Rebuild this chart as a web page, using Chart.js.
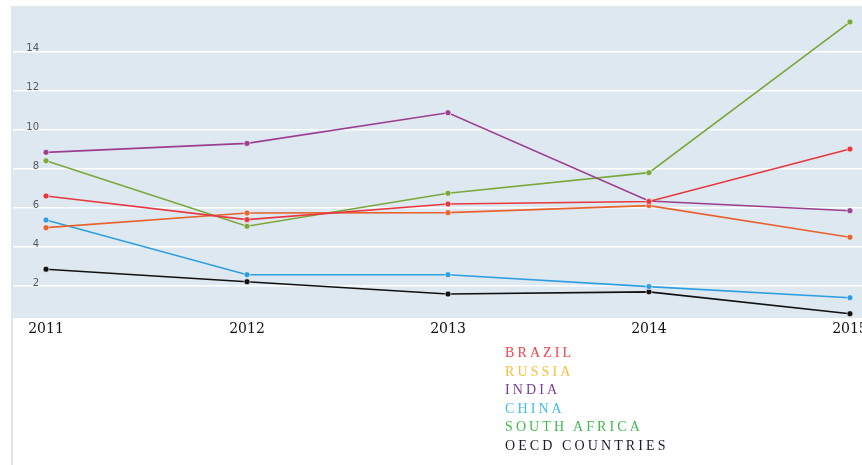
<!DOCTYPE html>
<html>
<head>
<style>
    body { margin: 0; background: #ffffff; }
    #wrap { position: relative; width: 862px; height: 465px; overflow: hidden; }
    #frame { position: absolute; left: 11px; top: 6px; width: 851px; height: 459px;
             border-left: 2px solid #e2e4e6; border-top: 1px solid #e6e8ea; pointer-events: none; }
    #legend { position: absolute; left: 505px; top: 344px; font-family: 'Liberation Serif', serif;
              font-size: 14px; line-height: 18.6px; letter-spacing: 3.1px; }
</style>
<script src="https://cdn.jsdelivr.net/npm/chart.js@4.4.1/dist/chart.umd.min.js"></script>
</head>
<body>
<div id="wrap">
    <canvas id="chart" width="862" height="465"></canvas>
    <div id="frame"></div>
    <div id="legend"></div>
</div>
<script>
    var years = [2011, 2012, 2013, 2014, 2015];
    var yTicks = [2, 4, 6, 8, 10, 12, 14];

    var labels = ['BRAZIL', 'RUSSIA', 'INDIA', 'CHINA', 'SOUTH AFRICA', 'OECD COUNTRIES'];
    var brazil = [6.61, 5.40, 6.20, 6.33, 9.02];
    var russia = [4.99, 5.74, 5.76, 6.12, 4.50];
    var india = [8.85, 9.31, 10.88, 6.36, 5.86];
    var china = [5.38, 2.58, 2.58, 1.97, 1.40];
    var southAfrica = [8.42, 5.06, 6.75, 7.81, 15.53];
    var oecd = [2.86, 2.22, 1.59, 1.70, 0.58];

    var lineCol = ['#e8383f', '#e8622e', '#9b3f8e', '#2f9ee0', '#7aa83a', '#111111'];
    var legendCol = ['#f0434d', '#f8c03a', '#7b3c9c', '#3fbdf0', '#41b84e', '#1a1a2a'];

    var series = [brazil, russia, india, china, southAfrica, oecd];

    var datasets = series.map(function (vals, i) {
        return {
            label: labels[i],
            data: vals.map(function (v, j) { return { x: years[j], y: v }; }),
            borderColor: lineCol[i],
            backgroundColor: lineCol[i],
            borderWidth: 1.6,
            pointRadius: 3,
            pointBorderWidth: 1,
            pointBorderColor: 'rgba(255,255,255,0.6)',
            pointBackgroundColor: lineCol[i],
            tension: 0,
            fill: false
        };
    });

    // legend as plain coloured text
    var lg = document.getElementById('legend');
    labels.forEach(function (t, i) {
        var d = document.createElement('div');
        d.textContent = t;
        d.style.color = legendCol[i];
        lg.appendChild(d);
    });

    // plot background, starting under the y labels
    var plotBg = {
        id: 'plotBg',
        beforeDraw: function (chart) {
            var ctx = chart.ctx, a = chart.chartArea;
            ctx.save();
            ctx.fillStyle = '#dde8f0';
            ctx.fillRect(chart.scales.y.left, a.top, a.right - chart.scales.y.left, a.bottom - a.top);
            ctx.restore();
        }
    };

    new Chart(document.getElementById('chart'), {
        type: 'line',
        data: { datasets: datasets },
        plugins: [plotBg],
        options: {
            responsive: false,
            animation: false,
            layout: { autoPadding: false, padding: { left: 13, top: 7, right: 0, bottom: 127 } },
            plugins: { legend: { display: false }, tooltip: { enabled: false } },
            scales: {
                x: {
                    type: 'linear',
                    min: 2010.97,
                    max: 2015.06,
                    afterBuildTicks: function (s) { s.ticks = years.map(function (v) { return { value: v }; }); },
                    afterFit: function (s) { s.height = 20; s.paddingLeft = 0; s.paddingRight = 0; },
                    grid: { display: false, drawTicks: false },
                    border: { display: false },
                    ticks: {
                        color: '#111111',
                        padding: 3,
                        maxRotation: 0,
                        autoSkip: false,
                        font: { family: 'DejaVu Serif', size: 14 },
                        callback: function (v) { return String(v); }
                    }
                },
                y: {
                    min: 0.36,
                    max: 16.3,
                    afterBuildTicks: function (s) { s.ticks = yTicks.map(function (v) { return { value: v }; }); },
                    afterFit: function (s) { s.width = 27; s.paddingTop = 0; s.paddingBottom = 0; },
                    grid: { color: '#ffffff', lineWidth: 1.5, drawTicks: true, tickLength: 27 },
                    border: { display: false },
                    ticks: {
                        color: '#5a5a5a',
                        padding: -26,
                        labelOffset: -3,
                        font: { family: 'DejaVu Sans', size: 10 },
                        callback: function (v) { return String(v); }
                    }
                }
            }
        }
    });
</script>
</body>
</html>
